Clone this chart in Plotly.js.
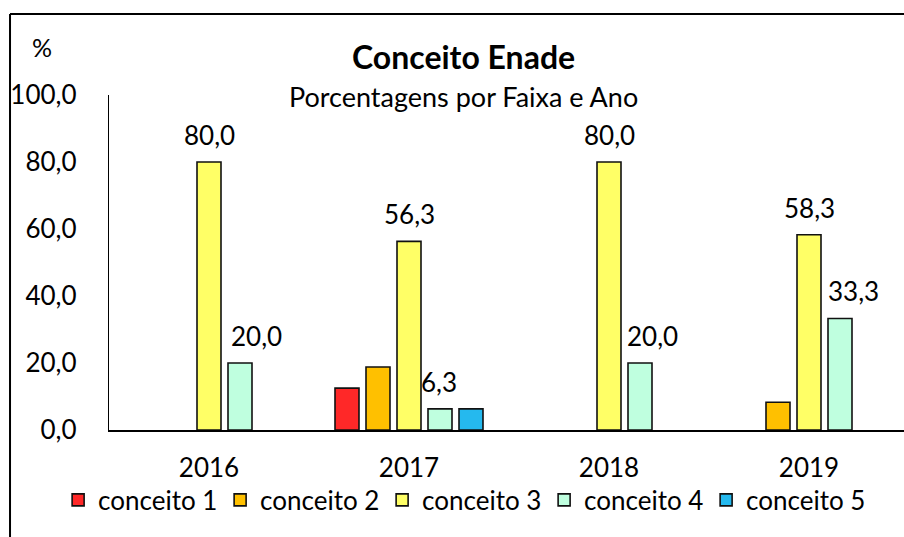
<!DOCTYPE html>
<html>
<head>
<meta charset="utf-8">
<script src="https://cdn.plot.ly/plotly-3.0.1.min.js"></script>
<style>
html,body{margin:0;padding:0;background:#fff;}
#chart{width:904px;height:537px;}
</style>
</head>
<body>
<div id="chart"></div>
<script>
const years = ['2016', '2017', '2018', '2019'];
const seriesNames = ['conceito 1', 'conceito 2', 'conceito 3', 'conceito 4', 'conceito 5'];
const conceito1 = [null, 12.5, null, null];
const conceito2 = [null, 18.8, null, 8.3];
const conceito3 = [80.0, 56.3, 80.0, 58.3];
const conceito4 = [20.0, 6.3, 20.0, 33.3];
const conceito5 = [null, 6.3, null, null];
const showLabels = [false, false, true, true, false];
const colors = ['#FF2828', '#FFC000', '#FFFF66', '#BFFFDF', '#25B9EE'];

const FONT = 'Lato, "Open Sans", sans-serif';
const seriesValues = [conceito1, conceito2, conceito3, conceito4, conceito5];

// styling: extra horizontal nudge (px) of value labels, per series / year
const labelNudge = [
  [0, 0, 0, 0],
  [0, 0, 0, 0],
  [0, 0, 0, 0],
  [16, -1, 12, 13],
  [0, 0, 0, 0]
];

// geometry (styling) used to place value labels over their bars
const BARGAP = 0.225;
const BARGROUPGAP = 0.226;
const PLOT_W = 904 - 109;
const XRANGE = [-0.5, 3.475];
const catPx = PLOT_W / (XRANGE[1] - XRANGE[0]);
const slotPx = catPx * (1 - BARGAP) / seriesValues.length;

const data = seriesValues.map((vals, i) => ({
  type: 'bar',
  name: seriesNames[i],
  x: years,
  y: vals,
  marker: {color: colors[i], line: {color: '#111', width: 1.6}},
  textposition: 'none',
  hoverinfo: 'x+y+name'
}));

const labelAnnotations = [];
seriesValues.forEach((vals, i) => {
  if (!showLabels[i]) return;
  vals.forEach((v, j) => {
    if (v === null) return;
    labelAnnotations.push({
      x: j, y: v, xref: 'x', yref: 'y',
      text: v.toFixed(1).replace('.', ','),
      showarrow: false, xanchor: 'center', yanchor: 'middle',
      xshift: (i - (seriesValues.length - 1) / 2) * slotPx + labelNudge[i][j],
      yshift: 27,
      font: {family: FONT, size: 26, color: '#000'}
    });
  });
});

const layout = {
  width: 904,
  height: 537,
  margin: {l: 109, r: 0, t: 95, b: 107},
  paper_bgcolor: '#fff',
  plot_bgcolor: 'rgba(0,0,0,0)',
  separators: ',.',
  font: {family: FONT, size: 26, color: '#000'},
  barmode: 'group',
  bargap: BARGAP,
  bargroupgap: BARGROUPGAP,
  showlegend: true,
  legend: {
    orientation: 'h',
    x: -0.064, xanchor: 'left',
    y: -0.209, yanchor: 'middle',
    font: {family: FONT, size: 26, color: '#000'},
    entrywidth: 117,
    itemwidth: 30,
    bgcolor: 'rgba(0,0,0,0)',
    traceorder: 'normal'
  },
  xaxis: {
    type: 'category',
    range: XRANGE,
    showline: true, linecolor: '#000', linewidth: 1.5,
    showgrid: false, zeroline: false, ticks: '',
    ticklabelstandoff: 14,
    tickfont: {family: FONT, size: 26, color: '#000'},
    fixedrange: true
  },
  yaxis: {
    range: [0, 100],
    tickvals: [0, 20, 40, 60, 80, 100],
    tickformat: '.1f',
    showline: true, linecolor: '#000', linewidth: 1.2,
    showgrid: false, zeroline: false, ticks: '',
    ticklabelstandoff: 26,
    tickfont: {family: FONT, size: 26, color: '#000'},
    fixedrange: true
  },
  annotations: [
    {text: '<b>Conceito Enade</b>', xref: 'paper', yref: 'paper', x: 0.4465, y: 1.116,
     xanchor: 'center', yanchor: 'middle', showarrow: false,
     font: {family: FONT, size: 32, color: '#000'}},
    {text: 'Porcentagens por Faixa e Ano', xref: 'paper', yref: 'paper', x: 0.4465, y: 0.997,
     xanchor: 'center', yanchor: 'middle', showarrow: false,
     font: {family: FONT, size: 27, color: '#000'}},
    {text: '%', xref: 'paper', yref: 'paper', x: -0.0843, y: 1.143,
     xanchor: 'center', yanchor: 'middle', showarrow: false,
     font: {family: FONT, size: 25, color: '#000'}}
  ].concat(labelAnnotations),
  shapes: [
    {type: 'line', xref: 'paper', yref: 'paper', x0: -0.1245, x1: 1.01, y0: 1.2418, y1: 1.2418,
     line: {color: '#000', width: 2}},
    {type: 'line', xref: 'paper', yref: 'paper', x0: -0.1245, x1: -0.1245, y0: 1.2418, y1: -0.33,
     line: {color: '#000', width: 2}}
  ]
};

Plotly.newPlot('chart', data, layout, {displayModeBar: false, staticPlot: true});
</script>
</body>
</html>
